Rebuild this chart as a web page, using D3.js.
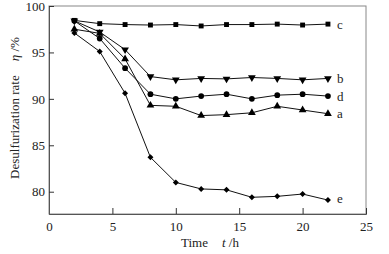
<!DOCTYPE html>
<html>
<head>
<meta charset="utf-8">
<script src="https://cdn.jsdelivr.net/npm/d3@7"></script>
<style>
  body { margin: 0; background: #fff; }
  text { font-family: "Liberation Serif", "DejaVu Serif", serif; fill: #222; }
</style>
</head>
<body>
<div id="chart"></div>
<script>
// time points (h)
const times = [2, 4, 6, 8, 10, 12, 14, 16, 18, 20, 22]
// desulfurization rate (%) for each sample
const seriesA = [97.5, 97.05, 94.3, 89.3, 89.2, 88.2, 88.3, 88.5, 89.2, 88.8, 88.4]
const seriesB = [98.4, 97.2, 95.3, 92.4, 92.05, 92.2, 92.15, 92.3, 92.2, 92.05, 92.2]
const seriesC = [98.45, 98.1, 98.0, 97.95, 98.0, 97.85, 98.0, 98.0, 98.05, 97.95, 98.05]
const seriesD = [98.4, 96.5, 93.3, 90.5, 90.0, 90.3, 90.5, 90.0, 90.4, 90.5, 90.3]
const seriesE = [97.1, 95.1, 90.6, 83.7, 81.0, 80.3, 80.2, 79.4, 79.5, 79.75, 79.1]
const seriesNames = ["a", "b", "c", "d", "e"]
const xTicks = [0, 5, 10, 15, 20, 25]
const yTicks = [80, 85, 90, 95, 100]

const width = 389, height = 254
const margin = { top: 6, right: 23, bottom: 40, left: 49 }

const svg = d3.select("#chart").append("svg")
    .attr("width", width)
    .attr("height", height)

const x = d3.scaleLinear().domain([0, 25]).range([margin.left, width - margin.right])
const y = d3.scaleLinear().domain([77.6, 100]).range([height - margin.bottom, margin.top])

// frame
svg.append("rect")
    .attr("x", margin.left).attr("y", margin.top)
    .attr("width", width - margin.left - margin.right)
    .attr("height", height - margin.top - margin.bottom)
    .attr("fill", "none").attr("stroke", "#888").attr("stroke-width", 1)

// x axis, ticks pointing in
const xAxis = svg.append("g").attr("transform", "translate(0," + (height - margin.bottom) + ")")
xAxis.call(d3.axisBottom(x).tickValues(d3.range(2.5, 25, 5)).tickSize(-4).tickFormat(""))
xAxis.call(d3.axisBottom(x).tickValues(xTicks).tickSize(-6).tickPadding(8))
xAxis.selectAll(".domain").attr("stroke", "#555")
xAxis.selectAll("line").attr("stroke", "#333")
xAxis.selectAll("text").attr("font-size", 13).attr("font-family", "Liberation Serif").attr("fill", "#222")

const yAxis = svg.append("g").attr("transform", "translate(" + margin.left + ",0)")
yAxis.call(d3.axisLeft(y).tickValues(d3.range(82.5, 100, 5)).tickSize(-4).tickFormat(""))
yAxis.call(d3.axisLeft(y).tickValues(yTicks).tickSize(-5).tickPadding(4))
yAxis.selectAll(".domain").attr("stroke", "#555")
yAxis.selectAll("line").attr("stroke", "#333")
yAxis.selectAll("text").attr("font-size", 13).attr("font-family", "Liberation Serif").attr("fill", "#222")

// axis titles
const yt = svg.append("text")
    .attr("transform", "translate(19,108) rotate(-90)")
    .attr("text-anchor", "middle")
    .attr("font-size", 13)
yt.append("tspan").text("Desulfurization rate")
yt.append("tspan").attr("dx", 14).attr("font-style", "italic").text("η")
yt.append("tspan").text(" /%")

const xt = svg.append("text")
    .attr("x", 210).attr("y", 247)
    .attr("text-anchor", "middle")
    .attr("font-size", 13)
xt.append("tspan").text("Time")
xt.append("tspan").attr("dx", 14).attr("font-style", "italic").text("t")
xt.append("tspan").text(" /h")

const allSeries = [seriesA, seriesB, seriesC, seriesD, seriesE]
const symbols = [
    d3.symbol().type(d3.symbolTriangle).size(26),
    d3.symbol().type(d3.symbolTriangle).size(26),
    d3.symbol().type(d3.symbolSquare).size(24),
    d3.symbol().type(d3.symbolCircle).size(26),
    d3.symbol().type(d3.symbolSquare).size(18)
]
const rotations = [0, 180, 0, 0, 45]

const line = d3.line()
    .x(function (d) { return x(d[0]) })
    .y(function (d) { return y(d[1]) })

allSeries.forEach(function (vals, i) {
    const pts = times.map(function (t, j) { return [t, vals[j]] })
    svg.append("path")
        .attr("d", line(pts))
        .attr("fill", "none")
        .attr("stroke", "#111")
        .attr("stroke-width", 1)
    svg.selectAll(".m" + i)
        .data(pts)
        .enter()
        .append("path")
        .attr("class", "m" + i)
        .attr("d", symbols[i])
        .attr("transform", function (d) {
            return "translate(" + x(d[0]) + "," + y(d[1]) + ") rotate(" + rotations[i] + ")"
        })
        .attr("fill", "#000")
    // series label at end
    svg.append("text")
        .attr("x", x(times[times.length - 1]) + 9)
        .attr("y", y(vals[vals.length - 1]) + (i === 4 ? -2 : 0))
        .attr("dy", "0.35em")
        .attr("font-size", 13)
        .text(seriesNames[i])
})
</script>
</body>
</html>
